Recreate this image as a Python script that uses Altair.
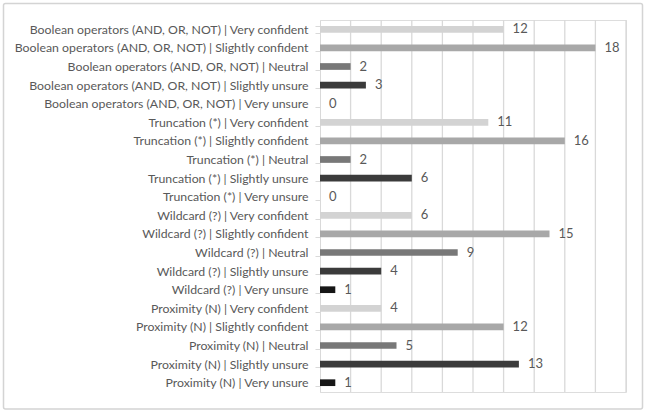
import altair as alt
import pandas as pd

# Survey responses: confidence with each search technique
techniques = [
    "Boolean operators (AND, OR, NOT)",
    "Truncation (*)",
    "Wildcard (?)",
    "Proximity (N)",
]
levels = ["Very confident", "Slightly confident", "Neutral", "Slightly unsure", "Very unsure"]
level_colors = ["#d3d3d3", "#a8a8a8", "#787878", "#3b3b3b", "#161616"]

boolean_counts = [12, 18, 2, 3, 0]
truncation_counts = [11, 16, 2, 6, 0]
wildcard_counts = [6, 15, 9, 4, 1]
proximity_counts = [4, 12, 5, 13, 1]

# vertical gridlines along the count axis
grid_values = [2, 4, 6, 8, 10, 12, 14, 16, 18, 20]

rows = []
for tech, counts in zip(techniques, [boolean_counts, truncation_counts, wildcard_counts, proximity_counts]):
    for lvl, n in zip(levels, counts):
        rows.append({"label": f"{tech} | {lvl}", "level": lvl, "count": n})
df = pd.DataFrame(rows)
order = list(df["label"])

W, H = 306, 372
font = "Lato"
text_color = "#595959"

x_scale = alt.Scale(domain=[0, 20], nice=False)

y_enc = alt.Y(
    "label:N",
    sort=order,
    scale=alt.Scale(paddingInner=0.64, paddingOuter=0.32),
    axis=alt.Axis(
        title=None,
        labelFont=font,
        labelFontSize=12.3,
        labelColor=text_color,
        labelPadding=7,
        labelLimit=400,
        domainColor="#d9d9d9",
        tickColor="#d9d9d9",
        tickSize=5,
        tickBand="extent",
        grid=False,
    ),
)
x_enc = alt.X("count:Q", scale=x_scale, axis=None)

grid = alt.Chart(pd.DataFrame({"v": grid_values})).mark_rule(
    color="#d9d9d9", strokeWidth=1.3
).encode(
    x=alt.X("v:Q", scale=x_scale, axis=None),
    y=alt.value(0),
    y2=alt.value(H),
)

bars = alt.Chart(df).mark_bar().encode(
    y=y_enc,
    x=x_enc,
    color=alt.Color("level:N", scale=alt.Scale(domain=levels, range=level_colors), legend=None),
)

values = alt.Chart(df).mark_text(
    align="left", baseline="middle", dx=9, font=font, fontSize=13, color=text_color
).encode(
    y=alt.Y("label:N", sort=order),
    x=alt.X("count:Q"),
    text="count:Q",
)

frame = alt.Chart(pd.DataFrame({"k": [0]})).mark_rect(
    fill=None, stroke="#d4d4d4", strokeWidth=1.5, cornerRadius=2, clip=False
).encode(
    x=alt.value(-316.5), x2=alt.value(322.5),
    y=alt.value(-16.5), y2=alt.value(389),
)

chart = (
    alt.layer(frame, grid, bars, values)
    .properties(
        width=W,
        height=H,
        autosize=alt.AutoSizeParams(type="none"),
        padding={"left": 320, "top": 20, "right": 20, "bottom": 21},
    )
    .configure_view(stroke=None)
    .configure(background="white")
)

chart.save("out.html", embed_options={"renderer": "svg", "actions": False})
